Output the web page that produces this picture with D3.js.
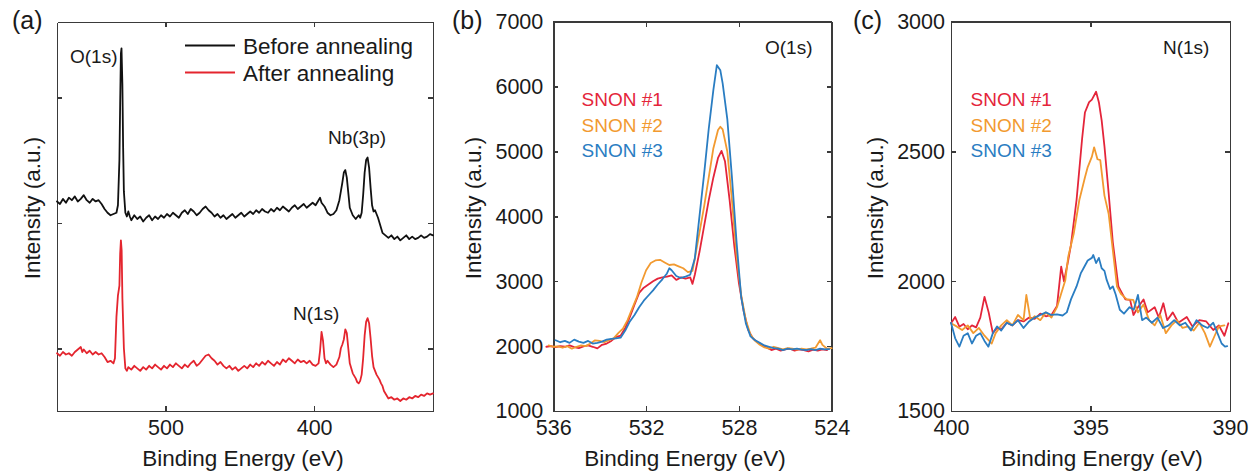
<!DOCTYPE html>
<html>
<head>
<meta charset="utf-8">
<script src="https://cdn.jsdelivr.net/npm/d3@7"></script>
<style>
  html, body { margin: 0; padding: 0; background: #fff; }
  svg { display: block; font-family: "Liberation Sans", Arial, Helvetica, sans-serif; }
  .axis path, .axis line { stroke: #3a3a3a; stroke-width: 1.5; shape-rendering: crispEdges; }
  .axis text { fill: #1a1a1a; font-size: 21.5px; }
  .trace { fill: none; stroke-width: 1.8; stroke-linejoin: round; stroke-linecap: round; }
</style>
</head>
<body>
<svg id="fig" width="1260" height="474"></svg>
<script>
// ---- (a) wide survey spectra, intensity in arbitrary units (offset traces) ----
const surveyBefore = [
  [573,2.17],[571,2.15],[569,2.19],[567,2.16],[565,2.20],[563,2.18],[561,2.21],[559,2.17],[557,2.19],[555,2.22],
  [553,2.18],[551,2.16],[549,2.19],[547,2.17],[545,2.18],[543,2.15],[541,2.11],[539,2.08],[537,2.06],[535,2.07],
  [533,2.08],[532,2.14],[531,2.50],[530.5,2.95],[530,3.35],[529.6,3.39],[529,3.10],[528.5,2.60],[528,2.25],[527,2.08],
  [526,2.05],[525,2.09],[524,2.05],[523,2.02],[521,2.06],[519,2.03],[517,2.05],[515,2.01],[513,2.04],[511,2.06],
  [509,2.02],[507,2.05],[505,2.03],[503,2.06],[501,2.04],[499,2.07],[497,2.05],[495,2.08],[493,2.06],[491,2.04],
  [489,2.08],[487,2.10],[485,2.07],[483,2.11],[481,2.09],[479,2.06],[477,2.08],[475,2.11],[473,2.13],[471,2.10],
  [469,2.08],[467,2.05],[465,2.07],[463,2.04],[461,2.06],[459,2.03],[457,2.05],[455,2.07],[453,2.04],[451,2.06],
  [449,2.08],[447,2.05],[445,2.07],[443,2.09],[441,2.07],[439,2.10],[437,2.08],[435,2.11],[433,2.09],[431,2.08],
  [429,2.11],[427,2.09],[425,2.12],[423,2.10],[421,2.13],[419,2.11],[417,2.09],[415,2.12],[413,2.14],[411,2.11],
  [409,2.13],[407,2.15],[405,2.12],[403,2.14],[401,2.16],[399,2.14],[397,2.18],[396,2.20],[395,2.16],[393,2.13],
  [391,2.08],[389,2.06],[387,2.07],[385,2.10],[383,2.18],[381,2.32],[380,2.40],[379,2.42],[378,2.36],[377,2.24],
  [376,2.12],[374,2.06],[372,2.03],[370,2.06],[369,2.04],[368,2.08],[367,2.22],[366,2.40],[365,2.50],[364,2.52],
  [363,2.44],[362,2.28],[361,2.14],[360,2.09],[359,2.10],[358,2.07],[357,2.04],[356,2.00],[355,1.96],[354,1.92],
  [352,1.90],[350,1.88],[348,1.90],[346,1.87],[344,1.89],[342,1.86],[340,1.88],[338,1.90],[336,1.87],[334,1.89],
  [332,1.87],[330,1.88],[328,1.90],[326,1.88],[324,1.89],[322,1.91],[320,1.90]
];
const surveyAfter = [
  [573,0.96],[571,0.94],[569,0.97],[567,0.95],[565,0.96],[563,0.94],[561,0.97],[559,0.99],[557,1.01],[556,0.97],
  [555,0.99],[553,0.96],[551,0.98],[549,0.95],[547,0.97],[545,0.95],[543,0.96],[541,0.93],[539,0.89],[537,0.90],
  [535,0.88],[534,0.92],[533,1.25],[532,1.42],[531,1.50],[530.5,1.75],[530,1.86],[529.5,1.78],[529,1.40],[528,1.00],
  [527,0.84],[526,0.82],[525,0.85],[523,0.83],[521,0.86],[519,0.84],[517,0.82],[515,0.85],[513,0.83],[511,0.86],
  [509,0.84],[507,0.87],[505,0.85],[503,0.83],[501,0.86],[499,0.84],[497,0.87],[495,0.85],[493,0.88],[491,0.86],
  [489,0.84],[487,0.87],[485,0.85],[483,0.88],[481,0.90],[479,0.86],[477,0.88],[475,0.91],[473,0.94],[471,0.95],
  [469,0.92],[467,0.90],[465,0.87],[463,0.89],[461,0.86],[459,0.84],[457,0.86],[455,0.83],[453,0.85],[451,0.82],
  [449,0.84],[447,0.86],[445,0.84],[443,0.87],[441,0.85],[439,0.88],[437,0.86],[435,0.89],[433,0.87],[431,0.90],
  [429,0.88],[427,0.86],[425,0.89],[423,0.87],[421,0.91],[419,0.89],[417,0.92],[415,0.90],[413,0.88],[411,0.91],
  [409,0.89],[407,0.90],[405,0.88],[403,0.90],[401,0.87],[399,0.86],[397,0.88],[396,0.98],[395,1.13],[394,1.06],
  [393,0.92],[392,0.88],[391,0.90],[389,0.87],[387,0.85],[385,0.87],[383,0.93],[382,1.00],[381,1.03],[380,1.07],
  [379,1.15],[378,1.12],[377,1.00],[376,0.88],[375,0.84],[374,0.80],[372,0.76],[371,0.73],[370,0.72],[369,0.74],
  [368,0.79],[367,0.92],[366,1.10],[365,1.21],[364,1.24],[363,1.20],[362,1.08],[361,0.94],[360,0.85],[359,0.82],
  [358,0.79],[357,0.77],[356,0.75],[355,0.72],[354,0.70],[353,0.66],[352,0.64],[351,0.62],[350,0.60],[348,0.61],
  [346,0.59],[344,0.60],[342,0.58],[340,0.60],[338,0.59],[336,0.61],[334,0.60],[332,0.62],[330,0.61],[328,0.63],
  [326,0.62],[324,0.64],[322,0.63],[320,0.64]
];
const surveyTicksX = [500, 400];
const surveyTicksY = [1, 2, 3];

// ---- (b) O(1s) core level ----
const o1sSnon1 = [
  [536.3,1990],[536.1,2000],[535.9,1985],[535.7,2000],[535.5,1990],[535.3,2010],[535.1,1985],[534.9,1970],[534.7,1995],
  [534.5,2010],[534.3,1990],[534.1,1965],[533.9,2020],[533.7,2040],[533.5,2080],[533.3,2140],[533.1,2160],[532.9,2280],
  [532.7,2450],[532.5,2640],[532.3,2820],[532.1,2900],[531.9,2950],[531.7,3000],[531.5,3040],[531.3,3060],[531.1,3070],
  [530.9,3090],[530.7,3020],[530.5,3060],[530.3,3040],[530.1,3060],[530.0,2960],[529.9,3100],[529.7,3450],[529.5,3850],
  [529.3,4250],[529.1,4600],[528.9,4900],[528.75,5010],[528.6,4850],[528.4,4250],[528.2,3550],[528.0,2970],[527.8,2550],
  [527.6,2250],[527.4,2120],[527.2,2060],[527.0,2020],[526.8,1980],[526.6,1940],[526.4,1960],[526.2,1930],[526.0,1950],
  [525.8,1960],[525.6,1930],[525.4,1950],[525.2,1940],[525.0,1920],[524.8,1945],[524.6,1930],[524.4,1950],[524.2,1940]
];
const o1sSnon2 = [
  [536.2,2010],[536.0,1990],[535.8,1995],[535.6,1975],[535.4,2000],[535.2,1960],[535.0,1990],[534.8,2010],[534.6,2000],
  [534.4,2040],[534.2,2090],[534.0,2080],[533.8,2060],[533.6,2090],[533.4,2120],[533.2,2200],[533.0,2270],[532.8,2400],
  [532.6,2580],[532.4,2750],[532.2,2980],[532.0,3170],[531.8,3280],[531.6,3320],[531.4,3330],[531.2,3290],[531.0,3250],
  [530.8,3260],[530.6,3230],[530.4,3200],[530.2,3140],[530.0,3160],[529.9,3350],[529.7,3750],[529.5,4150],[529.3,4600],
  [529.1,5050],[528.9,5330],[528.8,5380],[528.7,5340],[528.5,5000],[528.3,4250],[528.1,3400],[527.9,2780],[527.7,2400],
  [527.5,2180],[527.3,2080],[527.1,2020],[526.9,1980],[526.7,1960],[526.5,1990],[526.3,1970],[526.1,1950],[525.9,1970],
  [525.7,1960],[525.5,1945],[525.3,1960],[525.1,1950],[524.9,1960],[524.7,1975],[524.5,2090],[524.4,2020],[524.2,1960],
  [524.0,1970]
];
const o1sSnon3 = [
  [535.9,2090],[535.7,2060],[535.5,2080],[535.3,2050],[535.1,2100],[534.9,2070],[534.7,2050],[534.5,2080],[534.3,2040],
  [534.1,2050],[533.9,2070],[533.7,2100],[533.5,2110],[533.3,2120],[533.1,2130],[532.9,2240],[532.7,2380],[532.5,2480],
  [532.3,2600],[532.1,2700],[531.9,2780],[531.7,2860],[531.5,2950],[531.3,3030],[531.1,3120],[531.0,3200],[530.9,3170],
  [530.7,3080],[530.5,3050],[530.3,3070],[530.1,3100],[529.9,3350],[529.7,4000],[529.5,4650],[529.3,5350],[529.1,5950],
  [528.95,6330],[528.8,6250],[528.7,6050],[528.5,5500],[528.3,4600],[528.1,3600],[527.9,2750],[527.7,2350],[527.5,2150],
  [527.3,2090],[527.1,2050],[526.9,2010],[526.7,1990],[526.5,1970],[526.3,1960],[526.1,1940],[525.9,1960],[525.7,1950],
  [525.5,1960],[525.3,1945],[525.1,1940],[524.9,1955],[524.7,1940],[524.5,1960],[524.3,1950],[524.1,1955]
];
const o1sTicksX = [536, 532, 528, 524];
const o1sTicksY = [1000, 2000, 3000, 4000, 5000, 6000, 7000];

// ---- (c) N(1s) core level ----
const n1sSnon1 = [
  [400.0,1838],[399.85,1862],[399.7,1825],[399.55,1835],[399.4,1815],[399.25,1830],[399.1,1822],[398.95,1860],[398.8,1940],
  [398.65,1880],[398.5,1800],[398.35,1820],[398.2,1815],[398.0,1840],[397.8,1830],[397.6,1850],[397.4,1845],[397.2,1860],
  [397.0,1855],[396.8,1875],[396.6,1865],[396.4,1870],[396.2,1905],[396.05,2056],[395.95,2000],[395.8,2080],[395.7,2140],
  [395.5,2313],[395.3,2550],[395.2,2650],[395.05,2690],[394.95,2700],[394.8,2730],[394.7,2690],[394.6,2620],[394.5,2520],
  [394.35,2340],[394.2,2150],[394.0,1980],[393.9,1960],[393.75,1930],[393.58,1928],[393.46,1870],[393.3,1900],[393.1,1930],
  [392.95,1880],[392.7,1900],[392.55,1860],[392.39,1915],[392.25,1850],[392.05,1880],[391.85,1840],[391.55,1862],
  [391.35,1826],[391.1,1850],[390.85,1845],[390.6,1812],[390.4,1830],[390.2,1790],[390.06,1838]
];
const n1sSnon2 = [
  [400.0,1838],[399.8,1826],[399.6,1812],[399.4,1830],[399.2,1800],[399.0,1820],[398.8,1790],[398.54,1760],[398.4,1800],
  [398.2,1830],[398.0,1850],[397.8,1830],[397.6,1870],[397.4,1850],[397.3,1947],[397.15,1850],[397.0,1865],[396.8,1850],
  [396.6,1880],[396.4,1860],[396.2,1900],[396.05,1953],[395.9,2005],[395.8,2094],[395.6,2184],[395.4,2313],[395.2,2400],
  [395.1,2440],[394.95,2480],[394.87,2516],[394.75,2470],[394.65,2467],[394.5,2330],[394.35,2260],[394.2,2120],
  [394.05,1979],[393.9,1950],[393.7,1930],[393.47,1928],[393.3,1880],[393.1,1910],[392.9,1850],[392.7,1830],[392.5,1870],
  [392.3,1800],[392.1,1830],[391.9,1850],[391.7,1820],[391.5,1826],[391.3,1810],[391.1,1840],[390.9,1800],[390.72,1748],
  [390.55,1790],[390.4,1826],[390.2,1830]
];
const n1sSnon3 = [
  [400.0,1840],[399.85,1780],[399.7,1748],[399.55,1790],[399.4,1800],[399.25,1760],[399.1,1790],[398.95,1800],[398.8,1770],
  [398.66,1748],[398.5,1800],[398.35,1826],[398.2,1810],[398.0,1840],[397.8,1830],[397.6,1850],[397.4,1820],[397.2,1845],
  [397.0,1860],[396.8,1870],[396.6,1880],[396.4,1870],[396.2,1872],[396.0,1868],[395.85,1880],[395.7,1930],[395.5,1980],
  [395.35,2030],[395.25,2050],[395.1,2080],[394.95,2090],[394.9,2101],[394.8,2070],[394.7,2090],[394.6,2050],[394.5,2040],
  [394.42,2005],[394.3,1970],[394.2,1980],[394.1,1950],[393.95,1890],[393.8,1875],[393.6,1900],[393.45,1890],[393.3,1947],
  [393.15,1850],[393.0,1860],[392.8,1840],[392.6,1860],[392.4,1820],[392.2,1830],[392.0,1850],[391.8,1830],[391.6,1840],
  [391.4,1810],[391.2,1850],[391.0,1830],[390.8,1820],[390.6,1840],[390.45,1800],[390.3,1760],[390.18,1748],[390.1,1750]
];
const n1sTicksX = [400, 395, 390];
const n1sTicksY = [1500, 2000, 2500, 3000];

const snonLabels = ["SNON #1", "SNON #2", "SNON #3"];
const snonColors = ["#e4253a", "#f29a30", "#2a7dc2"];
const surveyLabels = ["Before annealing", "After annealing"];
const surveyColors = ["#111111", "#e4252e"];

const svg = d3.select("#fig");
const TXT = "#1a1a1a";

// Builds a framed panel with inward ticks on all four sides.
function panel(opts) {
  const { x, y, xt, yt, yLabels, yPad } = opts;
  const [x0, x1] = x.range();
  const [y0, y1] = y.range();
  const g = svg.append("g");

  g.append("g").attr("class", "axis").attr("transform", `translate(0,${y0})`)
    .call(d3.axisBottom(x).tickValues(xt).tickSizeInner(-5).tickSizeOuter(0).tickPadding(9).tickFormat(d3.format("d")));
  g.append("g").attr("class", "axis").attr("transform", `translate(0,${y1})`)
    .call(d3.axisTop(x).tickValues(xt).tickSizeInner(-5).tickSizeOuter(0).tickFormat(""));
  g.append("g").attr("class", "axis").attr("transform", `translate(${x0},0)`)
    .call(d3.axisLeft(y).tickValues(yt).tickSizeInner(-5).tickSizeOuter(0).tickPadding(yPad || 9)
      .tickFormat(yLabels ? d3.format("d") : ""));
  g.append("g").attr("class", "axis").attr("transform", `translate(${x1},0)`)
    .call(d3.axisRight(y).tickValues(yt).tickSizeInner(-5).tickSizeOuter(0).tickFormat(""));
  g.selectAll(".axis .domain").attr("stroke", "#3a3a3a");
  return g;
}

function trace(g, data, x, y, color, w) {
  g.append("path")
    .datum(data)
    .attr("class", "trace")
    .attr("stroke", color)
    .attr("stroke-width", w || 1.8)
    .attr("d", d3.line().x(d => x(d[0])).y(d => y(d[1])));
}

function label(txt, px, py, size, opts = {}) {
  const t = svg.append("text")
    .attr("x", px).attr("y", py)
    .attr("font-size", size)
    .attr("fill", opts.fill || TXT)
    .attr("text-anchor", opts.anchor || "start")
    .text(txt);
  if (opts.rotate) t.attr("transform", `rotate(-90,${px},${py})`);
  return t;
}

// ---------- panel (a) ----------
const xa = d3.scaleLinear().domain([573, 320]).range([57, 433]);
const ya = d3.scaleLinear().domain([0.5, 3.6]).range([411, 22]);
const ga = panel({ x: xa, y: ya, xt: surveyTicksX, yt: surveyTicksY, yLabels: false });
trace(ga, surveyBefore, xa, ya, surveyColors[0], 1.8);
trace(ga, surveyAfter, xa, ya, surveyColors[1], 1.8);

// legend
surveyLabels.forEach((s, i) => {
  const ly = 45.5 + i * 27;
  svg.append("line").attr("x1", 185).attr("x2", 235).attr("y1", ly).attr("y2", ly)
    .attr("stroke", surveyColors[i]).attr("stroke-width", 1.8);
  label(s, 243, ly + 8, 22.5);
});
label("O(1s)", 70, 63, 19);
label("Nb(3p)", 328, 144, 19);
label("N(1s)", 293, 320, 19);

// ---------- panel (b) ----------
const xb = d3.scaleLinear().domain([536, 524]).range([553.3, 831.7]);
const yb = d3.scaleLinear().domain([1000, 7000]).range([411, 21.7]);
const gb = panel({ x: xb, y: yb, xt: o1sTicksX, yt: o1sTicksY, yLabels: true, yPad: 10 });
[o1sSnon1, o1sSnon2, o1sSnon3].forEach((d, i) => trace(gb, d, xb, yb, snonColors[i]));
snonLabels.forEach((s, i) => label(s, 581.5, 106 + i * 25.5, 19, { fill: snonColors[i] }));
label("O(1s)", 765, 54, 19);

// ---------- panel (c) ----------
const xc = d3.scaleLinear().domain([400, 390]).range([951, 1230]);
const yc = d3.scaleLinear().domain([1500, 3000]).range([411, 21.7]);
const gc = panel({ x: xc, y: yc, xt: n1sTicksX, yt: n1sTicksY, yLabels: true, yPad: 6 });
[n1sSnon1, n1sSnon2, n1sSnon3].forEach((d, i) => trace(gc, d, xc, yc, snonColors[i]));
snonLabels.forEach((s, i) => label(s, 970.5, 106 + i * 25.5, 19, { fill: snonColors[i] }));
label("N(1s)", 1163, 54, 19);

// axis titles: [x-title centre, y-title baseline x]
[[243, 40], [685, 481], [1102, 883]].forEach(([cx, tx]) => {
  label("Binding Energy (eV)", cx, 466, 22.5, { anchor: "middle" });
  label("Intensity (a.u.)", tx, 208, 22.5, { anchor: "middle", rotate: true });
});

// panel letters
label("(a)", 12, 29, 25);
label("(b)", 452, 29, 25);
label("(c)", 853, 29, 25);
</script>
</body>
</html>
